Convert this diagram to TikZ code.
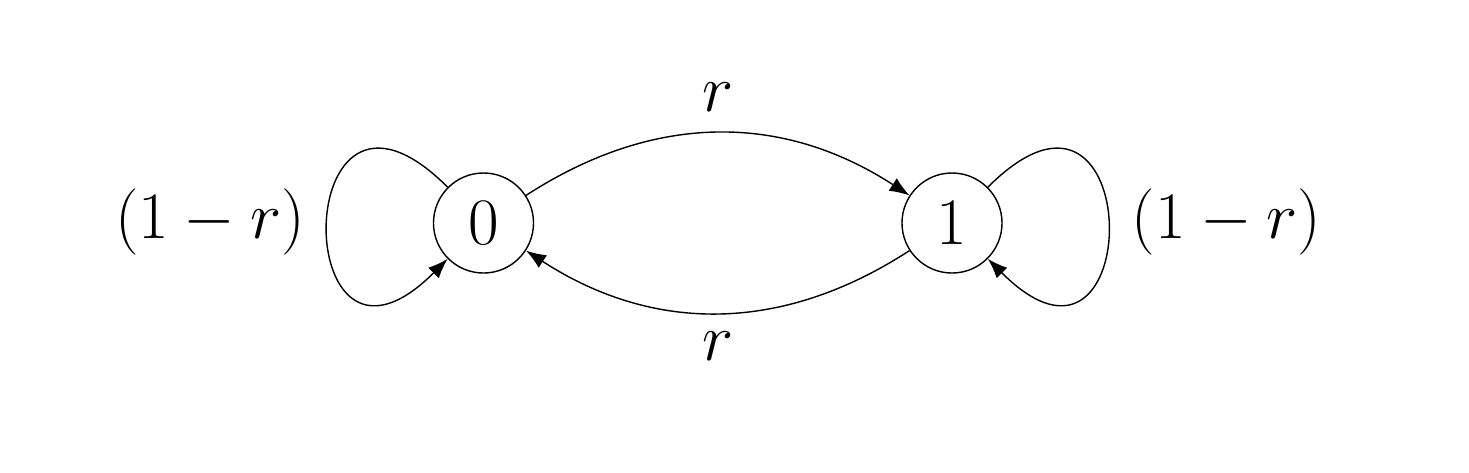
\documentclass[tikz,border=0pt]{standalone}
\usetikzlibrary{arrows.meta}
\begin{document}
\begin{tikzpicture}[
  every node/.style={font=\huge,scale=0.911},
  state/.style={circle,draw,line width=0.4pt,minimum size=1.098cm,inner sep=0pt},
  edgeline/.style={line width=0.4pt,-{Latex[length=2mm,width=1.5mm]}},
  lbl/.style={inner sep=0pt}
]
\useasboundingbox (0,0) rectangle (14.69,4.72);
\node[state] (n0) at (4.835,2.49) {$0$};
\node[state] (n1) at (9.52,2.49) {$1$};
\node[lbl] (l0) at (2.10,2.50) {$(1-r)$};
\node[lbl] (l1) at (12.265,2.50) {$(1-r)$};
\node[lbl] (rt) at (7.18,3.75) {$r$};
\node[lbl] (rb) at (7.18,1.26) {$r$};
\draw[edgeline] (n0) to[out=33,in=147,distance=1.52cm] (n1);
\draw[edgeline] (n1) to[out=213,in=-33,distance=1.52cm] (n0);
\draw[edgeline] (n0) to[out=135,in=225,distance=2.26cm] (n0);
\draw[edgeline] (n1) to[out=45,in=-45,distance=2.26cm] (n1);
\end{tikzpicture}
\end{document}
